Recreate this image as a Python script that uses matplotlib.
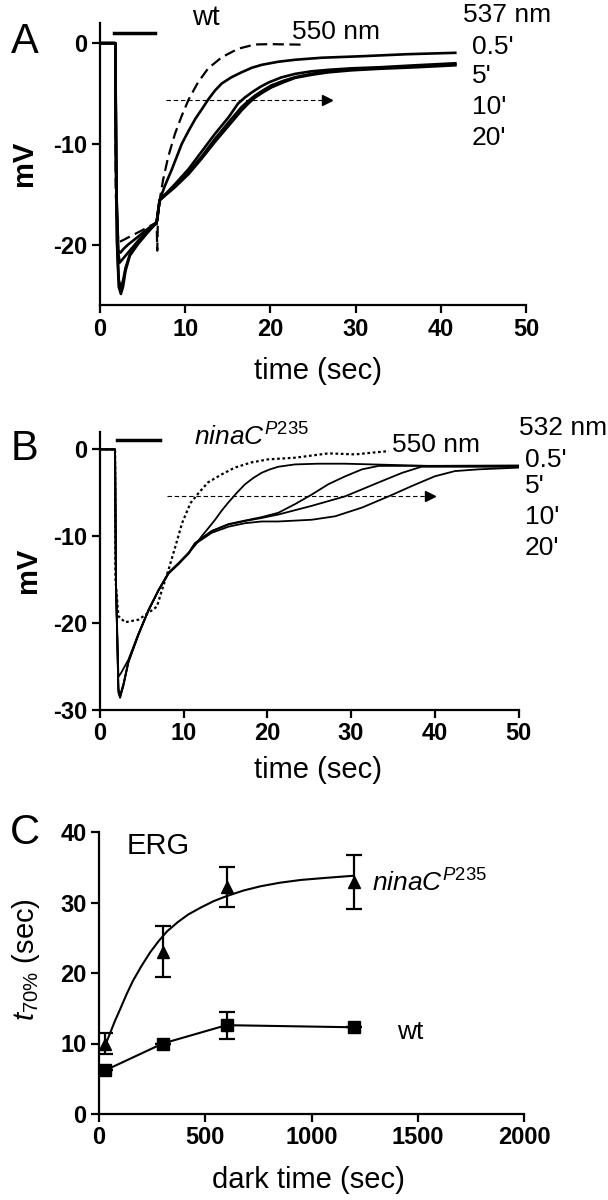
import matplotlib
matplotlib.use('Agg')
import matplotlib.pyplot as plt

plt.rcParams['font.family'] = ['Liberation Sans', 'DejaVu Sans']
plt.rcParams['mathtext.fontset'] = 'custom'
plt.rcParams['mathtext.it'] = 'Liberation Sans:italic'
plt.rcParams['mathtext.rm'] = 'Liberation Sans'
plt.rcParams['axes.unicode_minus'] = False

# ---- panel A: wt ERG traces (time in sec, response in mV) ----
a_550_t = [0, 1.8, 1.85, 2.15, 3.3, 4.9, 6.65, 6.72, 6.8, 7.0, 7.4, 8.0, 8.8, 9.6, 10.4, 11.5, 12.7, 14.3, 16.2, 18.2, 20.0, 23.7]
a_550_mv = [0, 0, -15, -19.8, -19.3, -18.6, -17.8, -20.6, -17.2, -15.6, -13.6, -11.3, -9.0, -7.2, -5.6, -3.9, -2.5, -1.4, -0.56, -0.13, -0.1, -0.15]

a_05_t = [0, 1.8, 1.9, 2.15, 2.4, 2.8, 3.3, 4.5, 5.5, 6.65, 7.0, 7.6, 8.4, 9.6, 10.4, 11.2, 12.0, 12.7, 13.5, 14.3, 15.4, 16.6, 17.8, 19.0, 20.9, 22.9, 26.0, 30.7, 36.0, 41.7]
a_05_mv = [0, 0, -14, -20.6, -20.8, -20.4, -20.0, -19.2, -18.5, -17.8, -15.6, -14.2, -12.6, -10.0, -8.7, -7.5, -6.5, -5.6, -4.7, -4.0, -3.4, -2.9, -2.45, -2.15, -1.85, -1.65, -1.45, -1.3, -1.1, -0.96]

a_5_t = [0, 1.8, 1.9, 2.1, 2.3, 2.6, 3.3, 4.5, 5.5, 6.65, 7.0, 8.8, 10.4, 11.9, 13.5, 15.1, 16.2, 17.0, 17.8, 18.8, 19.8, 21.3, 22.9, 24.8, 26.8, 29.5, 32.7, 37.0, 41.7]
a_5_mv = [0, 0, -14, -20.5, -21.8, -21.5, -20.8, -19.6, -18.7, -17.8, -15.6, -14.0, -12.5, -10.8, -9.0, -7.35, -6.0, -5.4, -4.9, -4.35, -3.9, -3.4, -3.05, -2.8, -2.65, -2.5, -2.4, -2.2, -2.0]

a_10_t = [0, 1.8, 1.9, 2.0, 2.2, 2.45, 2.7, 3.0, 3.5, 4.5, 5.5, 6.65, 7.0, 8.8, 10.4, 11.9, 13.5, 15.1, 16.6, 17.4, 18.2, 19.1, 20.1, 21.5, 22.9, 24.8, 26.8, 29.5, 32.7, 37.0, 41.7]
a_10_mv = [0, 0, -12, -19.5, -23.5, -24.3, -23.6, -22.3, -21.0, -19.8, -18.8, -17.8, -15.6, -14.1, -12.8, -11.3, -9.5, -7.85, -6.36, -5.75, -5.2, -4.7, -4.2, -3.75, -3.38, -3.05, -2.78, -2.6, -2.45, -2.3, -2.12]

a_20_t = [0, 1.8, 1.9, 2.0, 2.2, 2.45, 2.7, 3.0, 3.5, 4.5, 5.5, 6.65, 7.0, 8.8, 10.4, 11.9, 13.5, 15.1, 16.6, 17.4, 18.2, 19.1, 20.1, 21.5, 22.9, 24.8, 26.8, 29.5, 32.7, 37.0, 41.7]
a_20_mv = [0, 0, -12, -20.0, -24.2, -24.9, -24.2, -22.6, -21.1, -19.9, -18.9, -17.8, -15.6, -14.3, -13.0, -11.5, -9.8, -8.2, -6.7, -6.0, -5.4, -4.9, -4.4, -3.9, -3.45, -3.15, -2.9, -2.7, -2.55, -2.4, -2.2]

# ---- panel B: ninaC P235 ERG traces ----
b_550_t = [0, 1.8, 1.85, 2.2, 3.0, 4.6, 5.8, 6.8, 7.4, 8.2, 9.0, 9.8, 10.8, 11.8, 12.9, 14.5, 16.1, 18.1, 20.1, 23.3, 27.3, 30.5, 32.5, 34.5]
b_550_mv = [0, 0, -15, -19.2, -19.9, -19.6, -18.8, -18.1, -16.2, -13.8, -11.2, -8.5, -6.2, -5.0, -3.8, -2.9, -2.1, -1.5, -1.15, -0.96, -0.46, -0.58, -0.38, -0.2]

b_05_t = [0, 1.8, 1.9, 2.2, 2.6, 3.4, 4.6, 5.8, 7.0, 8.2, 9.4, 10.6, 11.4, 12.15, 13.0, 13.75, 14.5, 15.3, 16.3, 17.3, 18.3, 19.3, 20.3, 21.3, 23.3, 26.0, 29.3, 39.2, 50.0]
b_05_mv = [0, 0, -15, -26.2, -25.6, -24.2, -21.2, -18.5, -16.2, -14.2, -13.1, -11.9, -11.0, -10.0, -9.0, -8.1, -7.1, -6.15, -5.05, -4.04, -3.3, -2.7, -2.3, -2.0, -1.73, -1.65, -1.65, -1.9, -1.85]

b_5_t = [0, 1.8, 1.9, 2.2, 2.4, 2.8, 3.4, 4.6, 5.8, 7.0, 8.2, 9.4, 10.6, 11.35, 13.35, 15.35, 17.3, 19.3, 21.3, 23.3, 25.3, 27.3, 29.3, 31.3, 33.3, 40.0, 50.0]
b_5_mv = [0, 0, -15, -27.5, -28.3, -27.0, -24.4, -21.3, -18.5, -16.2, -14.2, -13.1, -11.9, -10.8, -9.4, -8.6, -8.2, -7.8, -7.3, -6.3, -5.2, -4.0, -3.1, -2.3, -1.9, -1.9, -1.95]

b_10_t = [0, 1.8, 1.9, 2.2, 2.4, 2.8, 3.4, 4.6, 5.8, 7.0, 8.2, 9.4, 10.6, 11.35, 13.35, 15.35, 17.3, 19.3, 21.3, 25.3, 29.3, 33.3, 36.1, 38.4, 42.0, 50.0]
b_10_mv = [0, 0, -15, -27.8, -28.5, -27.1, -24.4, -21.3, -18.5, -16.2, -14.2, -13.1, -11.9, -10.8, -9.4, -8.65, -8.25, -7.9, -7.5, -6.5, -5.4, -3.8, -2.7, -2.0, -2.0, -2.0]

b_20_t = [0, 1.8, 1.9, 2.2, 2.4, 2.8, 3.4, 4.6, 5.8, 7.0, 8.2, 9.4, 10.6, 11.35, 13.35, 15.35, 17.3, 19.3, 21.3, 25.3, 28.1, 31.3, 34.5, 37.3, 40.0, 42.4, 45.2, 50.0]
b_20_mv = [0, 0, -15, -28.0, -28.6, -27.2, -24.5, -21.3, -18.5, -16.2, -14.3, -13.2, -12.0, -10.9, -9.6, -8.9, -8.5, -8.3, -8.3, -8.1, -7.7, -6.7, -5.4, -4.2, -3.1, -2.5, -2.3, -2.1]

# stimulus bars and t70% arrows (time in sec, mV)
a_light = [1.6, 6.5]
a_light_mv = 1.0
a_arrow = [7.8, 26.6]
a_arrow_mv = -5.6
b_light = [2.0, 7.2]
b_light_mv = 1.1
b_arrow = [8.0, 39.4]
b_arrow_mv = -5.4

# ---- panel C: t70% vs dark time ----
dark_time = [30, 300, 600, 1200]
ninac_t70 = [10.0, 23.0, 32.2, 32.9]
ninac_err = [1.5, 3.6, 2.8, 3.8]
wt_t70 = [6.2, 10.0, 12.6, 12.3]
wt_err = [0, 0, 1.9, 0]
fit_x = [30, 50, 75, 100, 130, 160, 200, 240, 280, 320, 370, 420, 480, 540, 600, 680, 760, 850, 950, 1070, 1200]
fit_y = [9.8, 11.3, 13.2, 14.9, 17.0, 18.9, 21.0, 22.9, 24.5, 25.9, 27.2, 28.3, 29.3, 30.2, 30.9, 31.7, 32.3, 32.8, 33.2, 33.5, 33.8]

W, H = 608, 1200


def px(x, y):
    return x / W, 1 - y / H


def style(ax):
    for s in ['top', 'right']:
        ax.spines[s].set_visible(False)
    for s in ['left', 'bottom']:
        ax.spines[s].set_linewidth(1.6)
    ax.tick_params(width=1.6, length=6, labelsize=17, pad=3)
    for lab in ax.get_xticklabels() + ax.get_yticklabels():
        lab.set_fontweight('bold')


fig = plt.figure(figsize=(6.08, 12), dpi=100)

# panel A
ax_a = fig.add_axes([100 / W, 1 - 305 / H, 426 / W, 282 / H])
ax_a.plot(a_05_t, a_05_mv, color='k', lw=1.9)
ax_a.plot(a_5_t, a_5_mv, color='k', lw=1.9)
ax_a.plot(a_10_t, a_10_mv, color='k', lw=1.9)
ax_a.plot(a_20_t, a_20_mv, color='k', lw=1.9)
ax_a.plot(a_550_t, a_550_mv, color='k', lw=1.6, dashes=(5, 2.5))
ax_a.plot(a_light, [a_light_mv] * 2, color='k', lw=2.5)
ax_a.plot(a_arrow, [a_arrow_mv] * 2, color='k', lw=0.8, dashes=(4, 2.5))
ax_a.plot(a_arrow[1], a_arrow_mv, marker='>', color='k', markersize=7)
ax_a.set_xlim(0, 50)
ax_a.set_ylim(-26, 2)
ax_a.set_xticks([0, 10, 20, 30, 40, 50])
ax_a.set_yticks([0, -10, -20])
style(ax_a)

# panel B
ax_b = fig.add_axes([100 / W, 1 - 710 / H, 418.5 / W, 278 / H])
ax_b.plot(b_05_t, b_05_mv, color='k', lw=1.3)
ax_b.plot(b_5_t, b_5_mv, color='k', lw=1.3)
ax_b.plot(b_10_t, b_10_mv, color='k', lw=1.3)
ax_b.plot(b_20_t, b_20_mv, color='k', lw=1.3)
ax_b.plot(b_550_t, b_550_mv, color='k', lw=1.6, dashes=(1.2, 1.2))
ax_b.plot(b_light, [b_light_mv] * 2, color='k', lw=2.5)
ax_b.plot(b_arrow, [b_arrow_mv] * 2, color='k', lw=0.8, dashes=(4, 2.5))
ax_b.plot(b_arrow[1], b_arrow_mv, marker='>', color='k', markersize=7)
ax_b.set_xlim(0, 50)
ax_b.set_ylim(-30, 2)
ax_b.set_xticks([0, 10, 20, 30, 40, 50])
ax_b.set_yticks([0, -10, -20, -30])
style(ax_b)

# panel C
ax_c = fig.add_axes([99 / W, 1 - 1114 / H, 425 / W, 282 / H])
ax_c.plot(fit_x, fit_y, color='k', lw=1.5)
ax_c.errorbar(dark_time, ninac_t70, yerr=ninac_err, fmt='^', color='k', markersize=8,
              capsize=6, elinewidth=1.6, capthick=1.6)
ax_c.errorbar(dark_time, wt_t70, yerr=wt_err, fmt='s-', color='k', markersize=8,
              capsize=6, elinewidth=1.6, capthick=1.6, lw=1.5)
ax_c.set_xlim(0, 2000)
ax_c.set_ylim(0, 40)
ax_c.set_xticks([0, 500, 1000, 1500, 2000])
ax_c.set_yticks([0, 10, 20, 30, 40])
style(ax_c)

# panel letters
fig.text(*px(25, 42), 'A', fontsize=30, ha='center', va='center')
fig.text(*px(24, 449), 'B', fontsize=30, ha='center', va='center')
fig.text(*px(25, 833), 'C', fontsize=30, ha='center', va='center')

# axis labels
fig.text(*px(24, 163), 'mV', fontsize=21, fontweight='bold', rotation=90, ha='center', va='center')
fig.text(*px(28, 570), 'mV', fontsize=21, fontweight='bold', rotation=90, ha='center', va='center')
fig.text(*px(318, 371), 'time (sec)', fontsize=21, ha='center', va='center')
fig.text(*px(318, 770), 'time (sec)', fontsize=21, ha='center', va='center')
fig.text(*px(308, 1180), 'dark time (sec)', fontsize=21, ha='center', va='center')
fig.text(*px(26, 960), r'$\mathit{t}_{\mathit{70\%}}$ (sec)', fontsize=21, rotation=90,
         ha='center', va='center')

# annotations panel A
fig.text(*px(192, 18), 'wt', fontsize=20, ha='left', va='center')
fig.text(*px(292, 32), '550 nm', fontsize=19, ha='left', va='center')
fig.text(*px(463, 15), '537 nm', fontsize=19, ha='left', va='center')
fig.text(*px(472, 47), "0.5'", fontsize=19, ha='left', va='center')
fig.text(*px(472, 76), "5'", fontsize=19, ha='left', va='center')
fig.text(*px(472, 107), "10'", fontsize=19, ha='left', va='center')
fig.text(*px(472, 138), "20'", fontsize=19, ha='left', va='center')

# annotations panel B
fig.text(*px(194, 437), r'$\mathit{ninaC}^{\mathit{P235}}$', fontsize=19, ha='left', va='center')
fig.text(*px(392, 445), '550 nm', fontsize=19, ha='left', va='center')
fig.text(*px(519, 428), '532 nm', fontsize=19, ha='left', va='center')
fig.text(*px(525, 460), "0.5'", fontsize=19, ha='left', va='center')
fig.text(*px(525, 486), "5'", fontsize=19, ha='left', va='center')
fig.text(*px(525, 517), "10'", fontsize=19, ha='left', va='center')
fig.text(*px(525, 548), "20'", fontsize=19, ha='left', va='center')

# annotations panel C
fig.text(*px(127, 846), 'ERG', fontsize=21, ha='left', va='center')
fig.text(*px(372, 883), r'$\mathit{ninaC}^{\mathit{P235}}$', fontsize=19, ha='left', va='center')
fig.text(*px(397, 1032), 'wt', fontsize=19, ha='left', va='center')

fig.savefig('out.png', dpi=100)
